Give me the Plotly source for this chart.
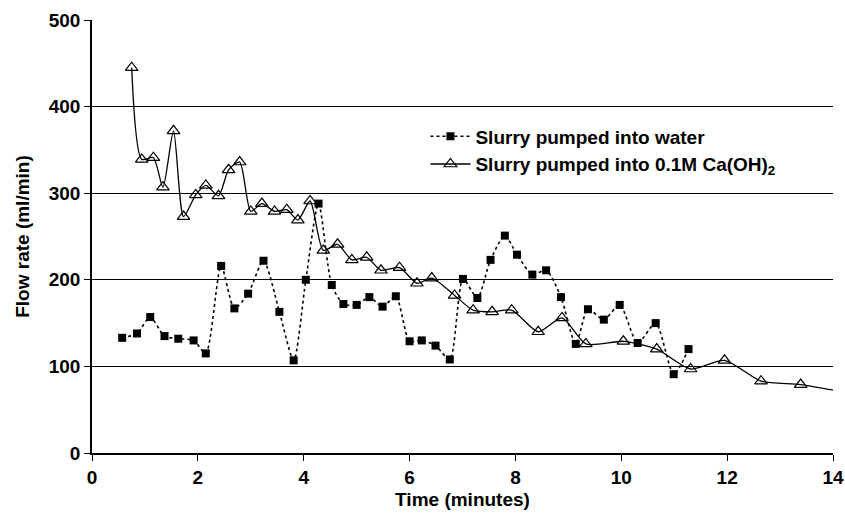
import plotly.graph_objects as go

water_t = [0.57, 0.85, 1.10, 1.37, 1.63, 1.92, 2.15, 2.44, 2.69, 2.95, 3.24, 3.54, 3.81, 4.04,
           4.28, 4.53, 4.75, 5.00, 5.24, 5.49, 5.74, 6.00, 6.23, 6.49, 6.76, 7.01, 7.28, 7.53,
           7.80, 8.03, 8.32, 8.58, 8.86, 9.14, 9.37, 9.67, 9.97, 10.31, 10.65, 10.99, 11.27]
water_q = [133, 138, 157, 135, 132, 130, 115, 216, 167, 184, 222, 163, 107, 200,
           288, 194, 172, 171, 180, 169, 181, 129, 130, 124, 108, 201, 179, 223,
           251, 229, 206, 211, 180, 126, 166, 154, 171, 127, 150, 91, 120]

ca_t = [0.75, 0.94, 1.16, 1.34, 1.54, 1.73, 1.96, 2.15, 2.39, 2.58, 2.79, 3.00, 3.21, 3.45,
        3.68, 3.89, 4.12, 4.37, 4.64, 4.91, 5.19, 5.46, 5.81, 6.14, 6.42, 6.85, 7.20, 7.56,
        7.93, 8.43, 8.88, 9.33, 10.04, 10.67, 11.31, 11.95, 12.64, 13.39, 14.40]
ca_q = [445, 339, 341, 307, 372, 273, 298, 309, 297, 327, 336, 279, 288, 279,
        281, 269, 291, 234, 241, 223, 226, 211, 214, 196, 202, 182, 165, 163,
        165, 140, 156, 126, 129, 120, 97, 107, 83, 79, 68]

x_ticks = [0, 2, 4, 6, 8, 10, 12, 14]
y_ticks = [0, 100, 200, 300, 400, 500]

FONT = "Liberation Sans, Arial, sans-serif"

fig = go.Figure()
fig.add_trace(go.Scatter(
    x=water_t, y=water_q, mode="lines+markers",
    name="<b>Slurry pumped into water</b>",
    line=dict(color="black", width=1.6, dash="dot", shape="spline", smoothing=0.7),
    marker=dict(symbol="square", size=8, color="black"),
))
fig.add_trace(go.Scatter(
    x=ca_t, y=ca_q, mode="lines+markers",
    name="<b>Slurry pumped into 0.1M Ca(OH)<sub>2</sub></b>",
    line=dict(color="black", width=1.3, shape="spline", smoothing=0.7),
    marker=dict(symbol="triangle-up-open", size=11, color="black", line=dict(width=1.2)),
))

fig.update_layout(
    width=845, height=518,
    margin=dict(l=92, r=12, t=20, b=65),
    paper_bgcolor="white", plot_bgcolor="white",
    font=dict(family=FONT, size=18, color="black"),
    showlegend=True,
    legend=dict(x=0.45, y=0.775, xanchor="left", yanchor="top",
                bgcolor="rgba(0,0,0,0)", font=dict(size=19, family=FONT),
                tracegroupgap=0, itemwidth=40),
    xaxis=dict(range=[0, 14], tickvals=x_ticks, ticktext=[f"<b>{v}</b>" for v in x_ticks],
               automargin=False,
               showgrid=False, zeroline=False, showline=True, linecolor="black", linewidth=1.5,
               ticks="outside", ticklen=6, tickcolor="black", tickwidth=1.2,
               tickfont=dict(size=19),
               title=dict(text="<b>Time (minutes)</b>", font=dict(size=19), standoff=6)),
    yaxis=dict(range=[0, 500], tickvals=y_ticks, ticktext=[f"<b>{v}</b>" for v in y_ticks],
               automargin=False,
               showgrid=True, gridcolor="black", gridwidth=1.4, zeroline=False,
               showline=True, linecolor="black", linewidth=1.5,
               ticks="outside", ticklen=6, tickcolor="black", tickwidth=1.2,
               tickfont=dict(size=19),
               title=dict(text="<b>Flow rate (ml/min)</b>", font=dict(size=19), standoff=14)),
)

fig.write_html("out.html")
